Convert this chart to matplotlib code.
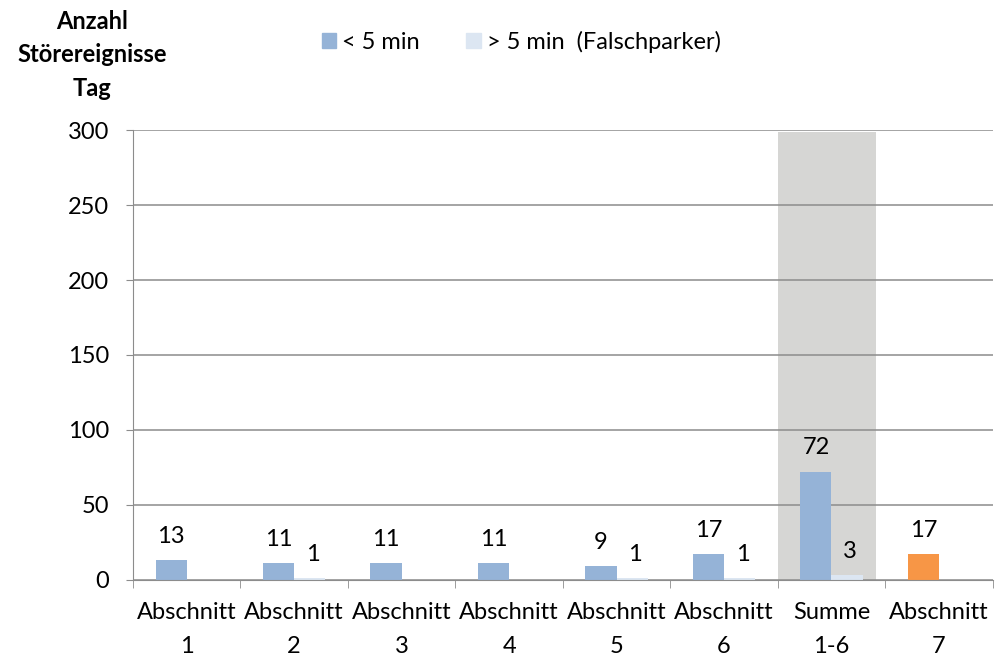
import numpy as np
import matplotlib
matplotlib.use("Agg")
import matplotlib.pyplot as plt
from matplotlib.patches import Patch

plt.rcParams['font.family'] = ['Lato', 'DejaVu Sans']

# data
categories = ["Abschnitt\n1", "Abschnitt\n2", "Abschnitt\n3", "Abschnitt\n4",
              "Abschnitt\n5", "Abschnitt\n6", "Summe\n1-6", "Abschnitt\n7"]
under5 = [13, 11, 11, 11, 9, 17, 72, 17]
over5 = [0, 1, 0, 0, 1, 1, 3, 0]
over5_labels = ["", "1", "", "", "1", "1", "3", ""]
highlight_height = 299

blue = "#95b3d7"
light = "#dce6f2"
orange = "#f79646"

fig = plt.figure(figsize=(10.02, 6.62), dpi=100)
ax = fig.add_axes([0.1327, 0.1239, 0.858, 0.6797])

x = np.arange(len(categories))
w = 0.29

# grey highlight behind "Summe 1-6"
ax.bar(6 - 0.5, highlight_height, width=0.91, align="edge", color="#d6d6d4", zorder=0)

cols = [blue] * 7 + [orange]
ax.bar(x - w / 2, under5, width=w, color=cols, zorder=3)
ax.bar(x + w / 2, over5, width=w, color=light, zorder=3)

for i in range(len(x)):
    ax.text(x[i] - w / 2, under5[i] + 9, str(under5[i]), ha="center", va="bottom", fontsize=17)
    if over5_labels[i]:
        ax.text(x[i] + w / 2 + 0.03, over5[i] + 9, over5_labels[i], ha="center", va="bottom", fontsize=17)

ax.set_xlim(-0.5, 7.5)
ax.set_ylim(0, 300)
ax.set_yticks(range(0, 301, 50))
ax.yaxis.grid(True, color="#8c8c8c", linewidth=1.1, zorder=1)
ax.set_axisbelow(False)
for gl in ax.get_ygridlines():
    gl.set_zorder(1)

ax.set_xticks(x)
ax.set_xticklabels(categories, fontsize=17, linespacing=1.75)
ax.set_xticks(np.arange(-0.5, 8, 1), minor=True)
ax.tick_params(axis="x", which="major", length=0, pad=16)
ax.tick_params(axis="x", which="minor", length=6, color="#8c8c8c")
ax.tick_params(axis="y", length=5, color="#8c8c8c", labelsize=17, pad=12)

for s in ["top", "right"]:
    ax.spines[s].set_visible(False)
ax.spines["left"].set_color("#8c8c8c")
ax.spines["bottom"].set_color("#8c8c8c")
ax.spines["bottom"].set_zorder(4)

fig.text(0.092, 0.917, "Anzahl\nStörereignisse\nTag", ha="center", va="center",
         fontsize=17, fontweight="bold", linespacing=1.55)

handles = [Patch(color=blue, label="< 5 min"), Patch(color=light, label="> 5 min  (Falschparker)")]
fig.legend(handles=handles, loc="center", bbox_to_anchor=(0.52, 0.937), ncol=2, frameon=False,
           fontsize=17, handlelength=0.6, handleheight=0.6, handletextpad=0.25, columnspacing=2.0)

fig.savefig("out.png", dpi=100)
